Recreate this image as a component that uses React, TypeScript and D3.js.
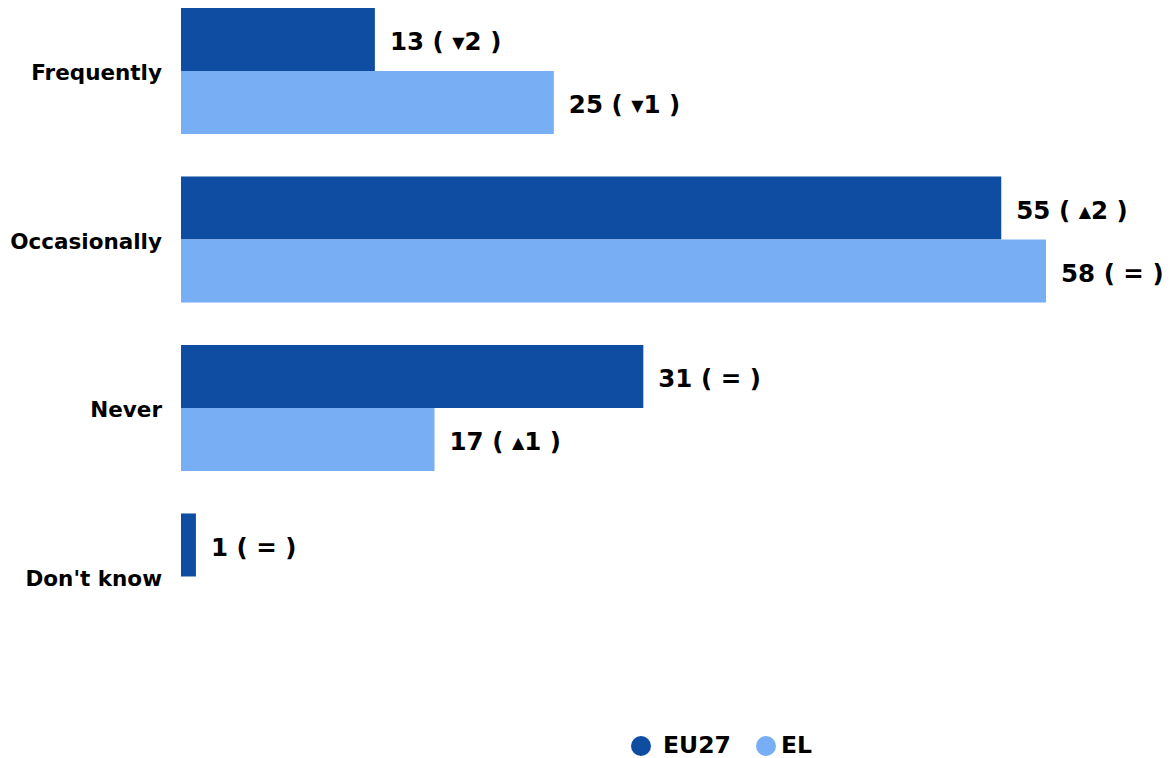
import React from "react";
import * as d3 from "d3";

const categories = ["Frequently", "Occasionally", "Never", "Don't know"];
const seriesNames = ["EU27", "EL"];
const eu27Values = [13, 55, 31, 1];
const elValues = [25, 58, 17, 0];
const eu27Trend = ["down", "up", "same", "same"];
const eu27Delta = [2, 2, 0, 0];
const elTrend = ["down", "same", "up", "none"];
const elDelta = [1, 0, 1, 0];
const colors = ["#0E4DA2", "#78AEF4"];

const W = 1170;
const H = 758;
const FONT = "'DejaVu Sans', sans-serif";

export default function App() {
  const y = d3.scaleBand<string>().domain(categories).range([8, 639.5]).paddingInner(0.252).paddingOuter(0);
  const ySub = d3.scaleBand<string>().domain(seriesNames).range([0, y.bandwidth()]);
  const x = d3.scaleLinear().domain([0, 58]).range([181, 1046]);

  const series = [
    { name: "EU27", values: eu27Values, trend: eu27Trend, delta: eu27Delta },
    { name: "EL", values: elValues, trend: elTrend, delta: elDelta },
  ];

  const renderLabel = (v: number, t: string, d: number) => {
    if (t === "none") return null;
    if (t === "same") {
      return (
        <>
          {v} ( = )
        </>
      );
    }
    return (
      <>
        {v} ({" "}
        <tspan fontSize={16} dy={-2}>{t === "up" ? "▲" : "▼"}</tspan>
        <tspan dy={2}>{d} )</tspan>
      </>
    );
  };

  return (
    <svg width={W} height={H} style={{ position: "absolute", left: 0, top: 0, background: "#fff" }} fontFamily={FONT}>
      {categories.map((c, i) => (
        <g key={c}>
          <text x={162} y={(y(c) as number) + y.bandwidth() / 2 + 1.5} dy="0.35em" textAnchor="end" fontSize={21.5} fontWeight={700} fill="#000">
            {c}
          </text>
          {series.map((s, si) => {
            const v = s.values[i];
            const by = (y(c) as number) + (ySub(s.name) as number);
            const bh = ySub.bandwidth();
            return (
              <g key={s.name}>
                {v > 0 && <rect x={x(0)} y={by} width={x(v) - x(0)} height={bh} fill={colors[si]} />}
                {s.trend[i] !== "none" && (
                  <text x={x(v) + 15} y={by + bh / 2 + 2} dy="0.35em" fontSize={24.5} fontWeight={700} fill="#000">
                    {renderLabel(v, s.trend[i], s.delta[i])}
                  </text>
                )}
              </g>
            );
          })}
        </g>
      ))}
      <g>
        <circle cx={641} cy={746} r={10} fill={colors[0]} />
        <text x={663} y={745} dy="0.35em" fontSize={23.5} fontWeight={700}>{seriesNames[0]}</text>
        <circle cx={766} cy={746} r={10} fill={colors[1]} />
        <text x={781} y={745} dy="0.35em" fontSize={23.5} fontWeight={700}>{seriesNames[1]}</text>
      </g>
    </svg>
  );
}
